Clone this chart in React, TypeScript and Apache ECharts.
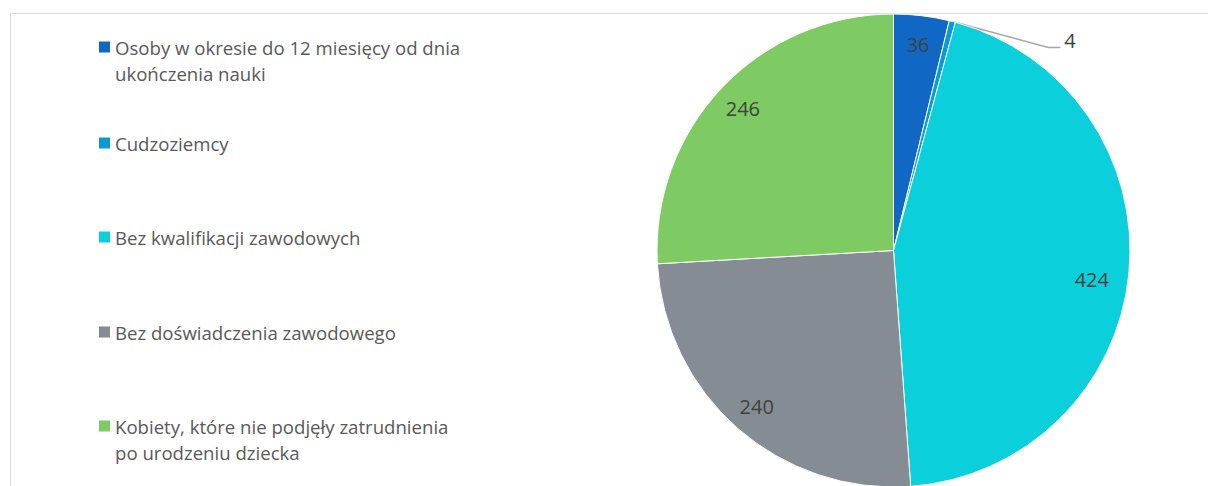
import React, { useEffect, useRef } from "react";
import * as echarts from "echarts";

const categories = [
  "Osoby w okresie do 12 miesięcy od dnia ukończenia nauki",
  "Cudzoziemcy",
  "Bez kwalifikacji zawodowych",
  "Bez doświadczenia zawodowego",
  "Kobiety, które nie podjęły zatrudnienia po urodzeniu dziecka",
];
const legendLabels = [
  "Osoby w okresie do 12 miesięcy od dnia\nukończenia nauki",
  "Cudzoziemcy",
  "Bez kwalifikacji zawodowych",
  "Bez doświadczenia zawodowego",
  "Kobiety, które nie podjęły zatrudnienia\npo urodzeniu dziecka",
];
const values = [36, 4, 424, 240, 246];
const colors = ["#1068C4", "#0A9BD6", "#0BCFDA", "#858C94", "#7DCB62"];
const legendCenters = [47, 143, 237, 332, 426];

export default function App() {
  const ref = useRef<HTMLDivElement>(null);
  useEffect(() => {
    if (!ref.current) return;
    const chart = echarts.init(ref.current, undefined, { renderer: "svg" });
    const font = "'Open Sans', sans-serif";
    const lineH = 26;
    const legends = categories.map((name, i) => {
      const twoLine = legendLabels[i].split("\n").length > 1;
      // a blank first line keeps the first text line level with the icon
      const text = twoLine ? "\u00a0\n" + legendLabels[i] : legendLabels[i];
      return {
        show: true,
        data: [name],
        orient: "vertical",
        left: 99,
        top: twoLine ? legendCenters[i] - 39 : legendCenters[i] - 13,
        padding: 0,
        itemGap: 0,
        itemWidth: 11,
        itemHeight: 11,
        icon: "rect",
        selectedMode: false,
        itemStyle: { borderWidth: 0 },
        formatter: () => text,
        textStyle: {
          color: "#595959",
          fontSize: 18.6,
          fontFamily: font,
          lineHeight: lineH,
        },
      };
    });
    const pieData = categories.map((name, i) => ({
      name,
      value: values[i],
      itemStyle: { color: colors[i] },
    }));
    chart.setOption({
      animation: false,
      color: colors,
      legend: legends,
      graphic: [
        {
          type: "rect",
          shape: { x: 10.5, y: 13.5, width: 1400, height: 700 },
          style: { fill: "none", stroke: "#D9D9D9", lineWidth: 1 },
          silent: true,
          z: -10,
        },
      ],
      series: [
        {
          type: "pie",
          center: [893.5, 250.5],
          radius: [0, 236.5],
          startAngle: 90,
          clockwise: true,
          avoidLabelOverlap: false,
          itemStyle: { borderColor: "#ffffff", borderWidth: 1 },
          label: { show: false },
          labelLine: { show: false },
          data: pieData.map((d, i) =>
            i === 1
              ? {
                  ...d,
                  label: {
                    show: true,
                    position: "outside",
                    formatter: "{c}",
                    color: "#404040",
                    fontSize: 20,
                    fontFamily: font,
                  },
                  labelLine: {
                    show: true,
                    length: 10,
                    length2: 10,
                    lineStyle: { color: "#A6A6A6", width: 1.5 },
                  },
                }
              : d
          ),
          labelLayout: (params: any) => {
            if (params.dataIndex !== 1) return {};
            const pts = params.labelLinePoints;
            if (!pts) return {};
            const s = pts[0];
            return {
              x: s[0] + 112,
              y: s[1] + 19,
              align: "left",
              verticalAlign: "middle",
              labelLinePoints: [
                [s[0], s[1]],
                [s[0] + 96, s[1] + 26],
                [s[0] + 108, s[1] + 26],
              ],
            };
          },
          emphasis: { disabled: true },
        },
        {
          type: "pie",
          center: [893.5, 250.5],
          radius: [172, 236.5],
          startAngle: 90,
          clockwise: true,
          silent: true,
          avoidLabelOverlap: false,
          itemStyle: { color: "transparent", borderWidth: 0 },
          label: {
            show: true,
            position: "inside",
            formatter: "{c}",
            color: "#404040",
            fontSize: 20,
            fontFamily: font,
          },
          labelLine: { show: false },
          labelLayout: (params: any) =>
            params.dataIndex === 2 ? { dx: -8, dy: 9 } : {},
          data: pieData.map((d, i) => ({
            name: d.name,
            value: d.value,
            itemStyle: { color: "transparent" },
            label: { show: i !== 1 },
          })),
          emphasis: { disabled: true },
        },
      ],
    });
    return () => chart.dispose();
  }, []);
  return (
    <div
      ref={ref}
      style={{ position: "fixed", left: 0, top: 0, width: 1208, height: 486, background: "#fff" }}
    />
  );
}
